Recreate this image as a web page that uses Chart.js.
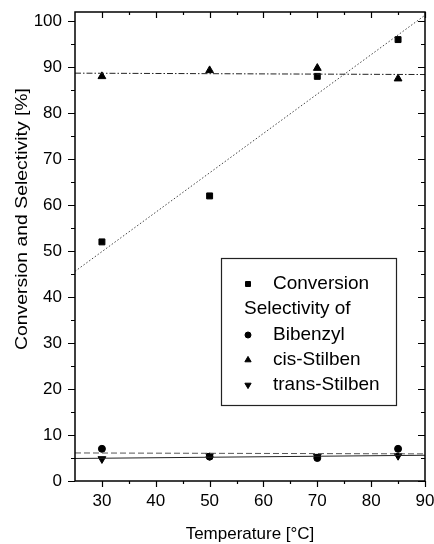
<!DOCTYPE html>
<html>
<head>
<meta charset="utf-8">
<script src="https://cdn.jsdelivr.net/npm/chart.js@4.4.1/dist/chart.umd.min.js"></script>
<style>
  html, body { margin: 0; padding: 0; background: #fff; }
</style>
</head>
<body>
<canvas id="chart" width="434" height="544"></canvas>
<script>
const temperature = [30, 50, 70, 85];
const conversion = [52, 62, 88, 96];
const bibenzyl = [7, 5.3, 5, 7];
const cisStilben = [88, 89.3, 89.8, 87.5];
const transStilben = [4.8, 5.5, 5.3, 5.5];

// fit lines at both ends of the x range
const fitX = [25, 90];
const fitConversion = [45.6, 101.3];
const fitCis = [88.7, 88.4];
const fitBibenzyl = [6.1, 5.9];
const fitTrans = [4.9, 5.6];

const xTicks = [30, 40, 50, 60, 70, 80, 90];
const xMinor = [35, 45, 55, 65, 75, 85];
const yTicks = [0, 10, 20, 30, 40, 50, 60, 70, 80, 90, 100];
const yMinor = [5, 15, 25, 35, 45, 55, 65, 75, 85, 95];

const FONT = "'Liberation Sans', Arial, sans-serif";

function pts(xs, ys) {
  return xs.map((x, i) => ({ x: x, y: ys[i] }));
}

// box around the plot, ticks out on left/bottom, in on top/right
const framePlugin = {
  id: "frame",
  afterDraw(chart) {
    const { ctx, chartArea: a, scales } = chart;
    const sx = scales.x, sy = scales.y;
    ctx.save();
    ctx.strokeStyle = "#000";
    ctx.lineWidth = 1.5;
    ctx.strokeRect(a.left, a.top, a.right - a.left, a.bottom - a.top);
    ctx.lineWidth = 1.2;
    ctx.beginPath();
    const tickX = (vals, len) => {
      vals.forEach(v => {
        const px = Math.round(sx.getPixelForValue(v)) + 0.5;
        ctx.moveTo(px, a.bottom); ctx.lineTo(px, a.bottom + len);
        ctx.moveTo(px, a.top); ctx.lineTo(px, a.top + len);
      });
    };
    const tickY = (vals, len) => {
      vals.forEach(v => {
        const py = Math.round(sy.getPixelForValue(v)) + 0.5;
        ctx.moveTo(a.left, py); ctx.lineTo(a.left - len, py);
        ctx.moveTo(a.right, py); ctx.lineTo(a.right - len, py);
      });
    };
    tickX(xTicks, 6); tickX(xMinor, 3);
    tickY(yTicks, 7); tickY(yMinor, 4);
    ctx.stroke();
    ctx.restore();
  }
};

const titlesPlugin = {
  id: "titles",
  afterDraw(chart) {
    const ctx = chart.ctx;
    ctx.save();
    ctx.fillStyle = "#000";
    ctx.textAlign = "center";
    ctx.textBaseline = "middle";
    ctx.font = "17px " + FONT;
    ctx.fillText("Temperature [°C]", 250, 534);

    const t = "Conversion and Selectivity [%]";
    ctx.font = "17px " + FONT;
    const w = ctx.measureText(t).width;
    ctx.translate(22, 219);
    ctx.rotate(-Math.PI / 2);
    ctx.scale(262 / w, 1);
    ctx.fillText(t, 0, 0);
    ctx.restore();
  }
};

const legendItems = [
  { text: "Conversion", style: "rect", r: 3.5, rot: 0, y: 284 },
  { text: "Selectivity of", style: null, y: 309 },
  { text: "Bibenzyl", style: "circle", r: 3, rot: 0, y: 335 },
  { text: "cis-Stilben", style: "triangle", r: 3.6, rot: 0, y: 360 },
  { text: "trans-Stilben", style: "triangle", r: 3.6, rot: 180, y: 385 }
];

const legendPlugin = {
  id: "boxLegend",
  afterDraw(chart) {
    const ctx = chart.ctx;
    ctx.save();
    ctx.fillStyle = "#fff";
    ctx.fillRect(221, 258, 175, 147);
    ctx.strokeStyle = "#222";
    ctx.lineWidth = 1.2;
    ctx.strokeRect(221.5, 258.5, 175, 147);
    ctx.font = "19px " + FONT;
    ctx.textBaseline = "middle";
    ctx.textAlign = "left";
    legendItems.forEach(it => {
      ctx.fillStyle = "#000";
      if (it.style) {
        ctx.strokeStyle = "#000";
        ctx.lineWidth = 1;
        Chart.helpers.drawPoint(ctx, { pointStyle: it.style, radius: it.r, rotation: it.rot, borderWidth: 1 }, 248, it.y);
        ctx.fillStyle = "#000";
        ctx.fillText(it.text, 273, it.y);
      } else {
        ctx.fillText(it.text, 244, it.y);
      }
    });
    ctx.restore();
  }
};

const marker = (style, r, rot) => ({
  showLine: false,
  pointStyle: style,
  pointRadius: r,
  pointRotation: rot,
  backgroundColor: "#000",
  borderColor: "#000",
  borderWidth: 1
});

const fitLine = (dash, color) => ({
  showLine: true,
  pointRadius: 0,
  borderColor: color,
  borderWidth: 1,
  borderDash: dash,
  fill: false
});

new Chart(document.getElementById("chart").getContext("2d"), {
  type: "scatter",
  data: {
    datasets: [
      Object.assign({ label: "fit conversion", data: pts(fitX, fitConversion) }, fitLine([1.5, 2], "#444")),
      Object.assign({ label: "fit cis", data: pts(fitX, fitCis) }, fitLine([6, 2, 1.5, 2], "#222")),
      Object.assign({ label: "fit bibenzyl", data: pts(fitX, fitBibenzyl) }, fitLine([6, 3], "#555")),
      Object.assign({ label: "fit trans", data: pts(fitX, fitTrans) }, fitLine([], "#222")),
      Object.assign({ label: "Conversion", data: pts(temperature, conversion) }, marker("rect", 4.2, 0)),
      Object.assign({ label: "Bibenzyl", data: pts(temperature, bibenzyl) }, marker("circle", 3.5, 0)),
      Object.assign({ label: "cis-Stilben", data: pts(temperature, cisStilben) }, marker("triangle", 4.5, 0)),
      Object.assign({ label: "trans-Stilben", data: pts(temperature, transStilben) }, marker("triangle", 4.5, 180))
    ]
  },
  options: {
    responsive: false,
    animation: false,
    layout: { padding: { top: 12, right: 9, left: 0, bottom: 0 } },
    plugins: {
      legend: { display: false },
      tooltip: { enabled: false }
    },
    scales: {
      x: {
        type: "linear",
        min: 25,
        max: 90,
        afterBuildTicks: s => { s.ticks = xTicks.map(v => ({ value: v })); },
        afterFit: s => { s.height = 63; s.paddingLeft = 0; s.paddingRight = 0; },
        grid: { display: false, drawTicks: false },
        border: { display: false },
        ticks: { color: "#000", font: { size: 17, family: FONT }, padding: 10, maxRotation: 0, autoSkip: false }
      },
      y: {
        type: "linear",
        min: 0,
        max: 102,
        afterBuildTicks: s => { s.ticks = yTicks.map(v => ({ value: v })); },
        afterFit: s => { s.width = 75; s.paddingTop = 0; s.paddingBottom = 0; },
        grid: { display: false, drawTicks: false },
        border: { display: false },
        ticks: { color: "#000", font: { size: 17, family: FONT }, padding: 13, autoSkip: false }
      }
    }
  },
  plugins: [framePlugin, titlesPlugin, legendPlugin]
});
</script>
</body>
</html>
